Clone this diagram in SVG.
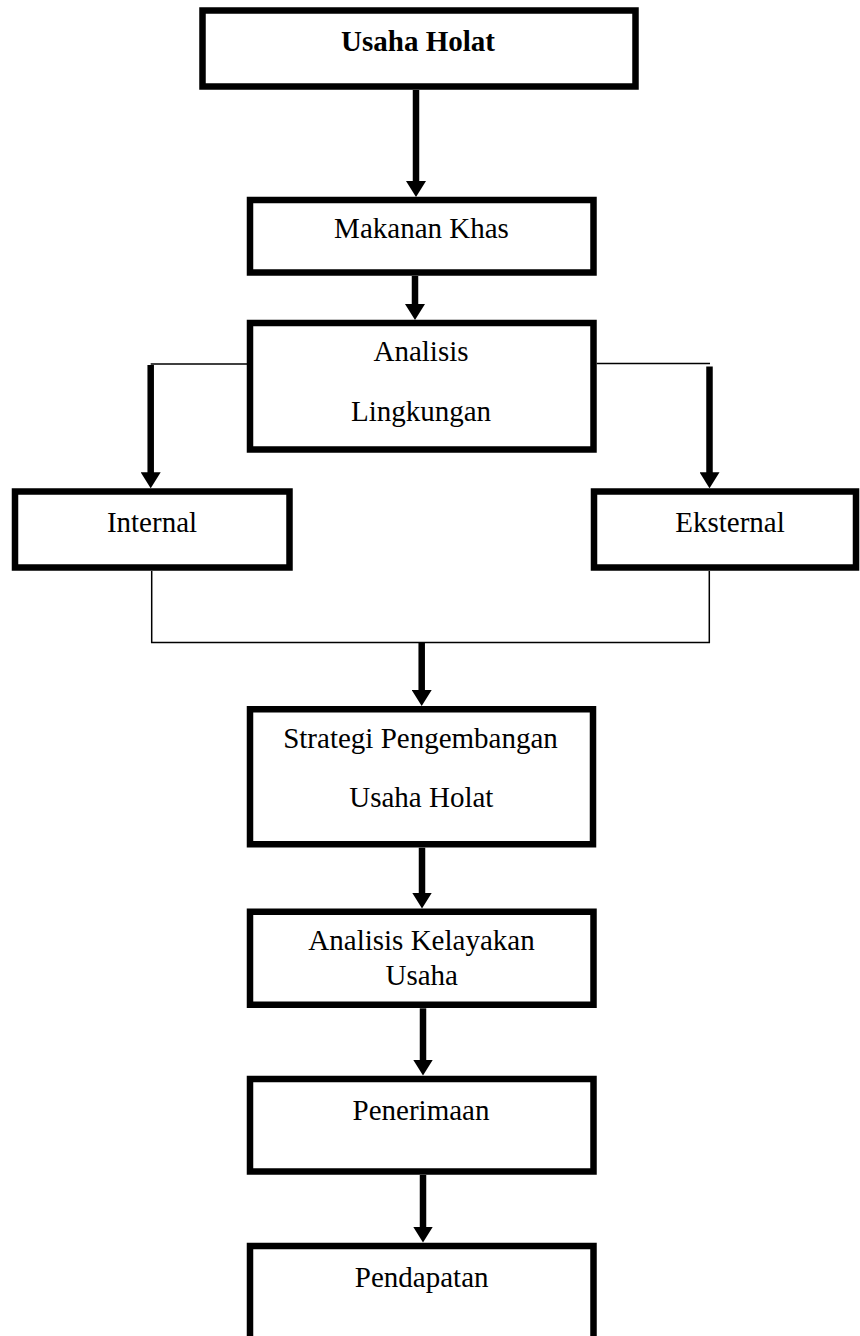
<svg xmlns="http://www.w3.org/2000/svg" width="860" height="1336" viewBox="0 0 860 1336">
<style>
.box{fill:#fff;stroke:#000;stroke-width:6.5}
.t{font-family:"Liberation Serif","Times New Roman",serif;font-size:29px;fill:#000;text-anchor:middle}
.b{font-weight:bold}
.thick{stroke:#000;stroke-width:6.5;fill:none}
.thin{stroke:#000;stroke-width:1.5;fill:none}
</style>
<defs>
<marker id="ah" markerUnits="userSpaceOnUse" markerWidth="16" markerHeight="20" refX="4" refY="10" orient="auto" viewBox="0 0 16 20">
<path d="M0,0 L16,10 L0,20 z" fill="#000"/>
</marker>
</defs>
<rect width="860" height="1336" fill="#fff"/>
<g id="connectors">
<line class="thick" x1="416" y1="90" x2="416" y2="185" marker-end="url(#ah)"/>
<line class="thick" x1="415" y1="276" x2="415" y2="308" marker-end="url(#ah)"/>
<polyline class="thin" points="247,364 150.7,364"/>
<line class="thick" x1="150.7" y1="365" x2="150.7" y2="476.3" marker-end="url(#ah)"/>
<polyline class="thin" points="596.7,363.5 710,363.5"/>
<line class="thick" x1="709.5" y1="366.5" x2="709.5" y2="476.3" marker-end="url(#ah)"/>
<polyline class="thin" points="151.7,571 151.7,642.5 709.3,642.5 709.3,571"/>
<line class="thick" x1="421.7" y1="642.5" x2="421.7" y2="694" marker-end="url(#ah)"/>
<line class="thick" x1="422" y1="847.7" x2="422" y2="896.5" marker-end="url(#ah)"/>
<line class="thick" x1="423" y1="1008.3" x2="423" y2="1063.5" marker-end="url(#ah)"/>
<line class="thick" x1="423" y1="1175" x2="423" y2="1230.5" marker-end="url(#ah)"/>
</g>
<g id="n1"><rect class="box" x="202.5" y="10.5" width="433" height="76"/><text class="t b" x="418" y="51">Usaha Holat</text></g>
<g id="n2"><rect class="box" x="250" y="200" width="343.5" height="72.5"/><text class="t" x="421.5" y="238">Makanan Khas</text></g>
<g id="n3"><rect class="box" x="250" y="323" width="343.5" height="126.5"/><text class="t" x="421" y="361">Analisis</text><text class="t" x="421" y="421">Lingkungan</text></g>
<g id="n4"><rect class="box" x="15" y="491.5" width="274.5" height="76"/><text class="t" x="152" y="531.5">Internal</text></g>
<g id="n5"><rect class="box" x="594" y="491.5" width="262" height="76"/><text class="t" x="730" y="531.5">Eksternal</text></g>
<g id="n6"><rect class="box" x="250" y="709.25" width="343" height="135"/><text class="t" x="420.5" y="747.5">Strategi Pengembangan</text><text class="t" x="421.3" y="807">Usaha Holat</text></g>
<g id="n7"><rect class="box" x="250" y="911.75" width="343.5" height="93"/><text class="t" x="421.5" y="950">Analisis Kelayakan</text><text class="t" x="421.7" y="985">Usaha</text></g>
<g id="n8"><rect class="box" x="250" y="1079" width="343.5" height="92.5"/><text class="t" x="421" y="1120">Penerimaan</text></g>
<g id="n9"><rect class="box" x="250" y="1246" width="343.5" height="95"/><text class="t" x="421.7" y="1286.5">Pendapatan</text></g>
</svg>
